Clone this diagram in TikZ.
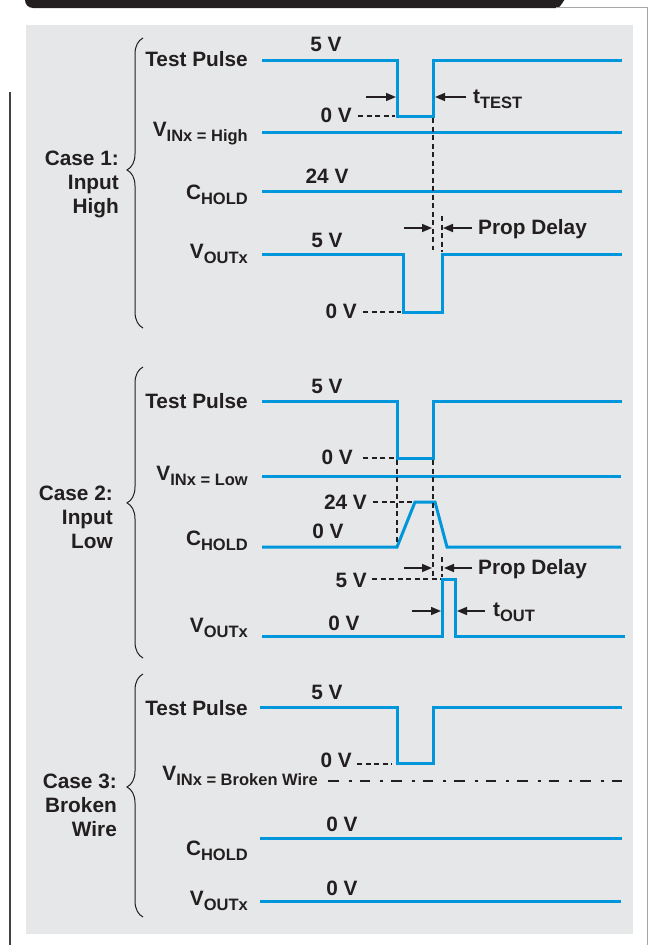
\documentclass[tikz,border=0pt]{standalone}
\usepackage{fontspec}
\setmainfont{Liberation Sans}
\usetikzlibrary{arrows.meta, decorations.pathreplacing}
\definecolor{sigblue}{RGB}{0,150,219}
\definecolor{panelgray}{RGB}{230,231,232}
\definecolor{inkblack}{RGB}{35,31,32}
\newcommand{\lowtxt}[1]{\raisebox{-5pt}{\fontsize{16.5}{16.5}\selectfont #1}}

\begin{document}
\begin{tikzpicture}[
    x=1pt, y=-1pt,
    every node/.style={font=\fontsize{20.8}{24}\selectfont\bfseries, text=inkblack, inner sep=0pt},
    sig/.style={sigblue, line width=3pt},
    guide/.style={inkblack, line width=1.1pt, dash pattern=on 5pt off 3.5pt},
    brokenwire/.style={inkblack, line width=2.4pt, dash pattern=on 10.5pt off 10pt on 3pt off 8pt},
    arrow/.style={-{Triangle[length=10pt, width=8pt]}, inkblack, line width=1.6pt},
    casebrace/.style={decorate, decoration={brace, amplitude=16pt, aspect=#1}, line width=1pt, inkblack},
    lbl/.style={anchor=base east},
    val/.style={anchor=base}
]
\useasboundingbox (0,0) rectangle (649,945);
\fill[inkblack] (25,-2) -- (25,0) arc[start angle=180, end angle=270, radius=8pt] -- (556,8) .. controls (562,8) and (562,0) .. (567,-2) -- cycle;
\draw[gray!70, line width=0.8pt] (556,7.5) -- (647,7.5) -- (647,945);
\draw[inkblack!85, line width=1.4pt] (10,92) -- (10,945);
\fill[panelgray] (26,25) rectangle (633,934);

\node[align=right, anchor=east] (case1) at (119,184) {Case 1:\\Input\\High};
\draw[casebrace=0.545] (143,328) -- (143,38);
\node[lbl] (tp1) at (248,66) {Test Pulse};
\node[lbl] (vin1) at (248,136) {V\lowtxt{INx = High}};
\node[lbl] (ch1) at (248,199) {C\lowtxt{HOLD}};
\node[lbl] (vo1) at (248,258) {V\lowtxt{OUTx}};
\draw[sig] (262,60) -- (397,60) -- (397,116) -- (433,116) -- (433,60) -- (622,60);
\draw[sig] (262,132) -- (622,132);
\draw[sig] (262,191) -- (622,191);
\draw[sig] (262,254) -- (403,254) -- (403,312) -- (442,312) -- (442,254) -- (622,254);
\node[val] (hi1a) at (326,51) {5 V};
\node[anchor=base east] (lo1a) at (352,122) {0 V};
\node[val] (hold1) at (327,183) {24 V};
\node[val] (hi1b) at (327,247) {5 V};
\node[anchor=base east] (lo1b) at (357,318) {0 V};
\draw[guide] (358,116) -- (395,116);
\draw[guide] (363,312) -- (401,312);
\draw[guide] (433,118) -- (433,250);
\draw[guide] (442,216) -- (442,252);
\draw[arrow] (366,97) -- (396,97);
\draw[arrow] (466,97) -- (435,97);
\node[anchor=base west] (ttest) at (473,103) {t\lowtxt{TEST}};
\draw[arrow] (404,228) -- (432,228);
\draw[arrow] (472,228) -- (443,228);
\node[anchor=base west] (prop1) at (478,234) {Prop Delay};

\node[align=right, anchor=east] (case2) at (113,517) {Case 2:\\Input\\Low};
\draw[casebrace=0.533] (143,658) -- (143,367);
\node[lbl] (tp2) at (248,408) {Test Pulse};
\node[lbl] (vin2) at (248,480) {V\lowtxt{INx = Low}};
\node[lbl] (ch2) at (248,545) {C\lowtxt{HOLD}};
\node[lbl] (vo2) at (248,632) {V\lowtxt{OUTx}};
\draw[sig] (262,401) -- (397,401) -- (397,458) -- (433,458) -- (433,401) -- (622,401);
\draw[sig] (262,476) -- (621,476);
\draw[sig] (262,547) -- (397,547) -- (415,502) -- (435,502) -- (447,547) -- (621,547);
\draw[sig] (262,636) -- (442,636) -- (442,579) -- (455,579) -- (455,636) -- (625,636);
\node[val] (hi2a) at (327,393) {5 V};
\node[anchor=base east] (lo2a) at (353,464) {0 V};
\node[anchor=base east] (hold2) at (367,509) {24 V};
\node[val] (lo2b) at (328,538) {0 V};
\node[anchor=base east] (hi2b) at (367,587) {5 V};
\node[val] (lo2c) at (344,630) {0 V};
\draw[guide] (363,458) -- (395,458);
\draw[guide] (397,460) -- (397,545);
\draw[guide] (433,460) -- (433,579);
\draw[guide] (373,502) -- (413,502);
\draw[guide] (372,579) -- (441,579);
\draw[guide] (442,557) -- (442,577);
\draw[arrow] (404,568) -- (432,568);
\draw[arrow] (472,568) -- (444,568);
\node[anchor=base west] (prop2) at (478,574) {Prop Delay};
\draw[arrow] (412,611) -- (441,611);
\draw[arrow] (485,611) -- (457,611);
\node[anchor=base west] (tout) at (493,616) {t\lowtxt{OUT}};

\node[align=right, anchor=east] (case3) at (117,805) {Case 3:\\Broken\\Wire};
\draw[casebrace=0.535] (143,917) -- (143,674);
\node[lbl] (tp3) at (248,715) {Test Pulse};
\node[lbl] (vin3) at (318,780) {V\lowtxt{INx = Broken Wire}};
\node[lbl] (ch3) at (248,855) {C\lowtxt{HOLD}};
\node[lbl] (vo3) at (248,905) {V\lowtxt{OUTx}};
\draw[sig] (260,707) -- (397,707) -- (397,763) -- (433,763) -- (433,707) -- (622,707);
\draw[brokenwire] (328,781) -- (622,781);
\draw[sig] (260,838) -- (622,838);
\draw[sig] (260,901) -- (621,901);
\node[val] (hi3a) at (327,699) {5 V};
\node[anchor=base east] (lo3a) at (352,767) {0 V};
\node[val] (lo3b) at (342,831) {0 V};
\node[val] (lo3c) at (342,895) {0 V};
\draw[guide] (357,764) -- (392,764);
\end{tikzpicture}
\end{document}
